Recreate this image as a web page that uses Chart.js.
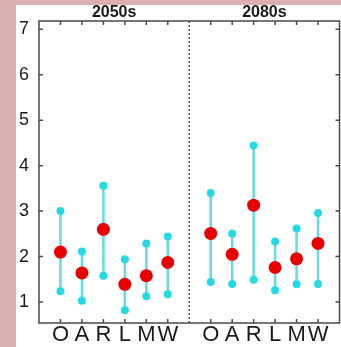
<!DOCTYPE html>
<html>
<head>
<meta charset="utf-8">
<script src="https://cdn.jsdelivr.net/npm/chart.js@4.4.1/dist/chart.umd.min.js"></script>
<style>
  html, body { margin: 0; padding: 0; overflow: hidden; background: #dcafb3; width: 341px; height: 347px; }
  #card { position: absolute; left: 16px; top: 5px; right: 0; bottom: 0; background: #ffffff; }
  #c { position: absolute; left: 0; top: 0; }
</style>
</head>
<body>
<div id="card"></div>
<canvas id="c" width="346" height="347"></canvas>
<script>
// Categories of each period panel
const categories = ['O', 'A', 'R', 'L', 'M', 'W'];
const periods = ['2050s', '2080s'];

// Central estimate and range (low / high) per category, one array per period
const mean2050 = [2.10, 1.64, 2.60, 1.39, 1.58, 1.87];
const high2050 = [3.00, 2.11, 3.56, 1.94, 2.29, 2.44];
const low2050  = [1.24, 1.03, 1.58, 0.82, 1.13, 1.17];

const mean2080 = [2.51, 2.05, 3.13, 1.76, 1.95, 2.29];
const high2080 = [3.40, 2.51, 4.44, 2.33, 2.62, 2.96];
const low2080  = [1.44, 1.40, 1.49, 1.26, 1.39, 1.40];

const yTicks = [1, 2, 3, 4, 5, 6, 7];

// x positions: 1..6 for the first panel, 8..13 for the second, divider at 7
const xPos2050 = [1, 2, 3, 4, 5, 6];
const xPos2080 = [8, 9, 10, 11, 12, 13];
const dividerX = 7;
const periodCenters = [3.5, 10.5];
const X_MIN = 0, X_MAX = 14;
const Y_MIN = 0.54, Y_MAX = 7.18;

const xAll = xPos2050.concat(xPos2080);
const meanAll = mean2050.concat(mean2080);
const highAll = high2050.concat(high2080);
const lowAll = low2050.concat(low2080);

const meanPts = xAll.map((x, i) => ({ x, y: meanAll[i] }));
const endPts = [];
const stemPts = [];
xAll.forEach((x, i) => {
  endPts.push({ x, y: highAll[i] }, { x, y: lowAll[i] });
  stemPts.push({ x, y: lowAll[i] }, { x, y: highAll[i] }, { x, y: null });
});

const AXIS = '#4a4a4a';

// box frame with inward tick marks on all four sides
const framePlugin = {
  id: 'frame',
  beforeDatasetsDraw(chart) {
    const { ctx, chartArea: a, scales } = chart;
    ctx.save();
    ctx.strokeStyle = AXIS;
    ctx.lineWidth = 1.5;
    ctx.strokeRect(a.left, a.top, a.right - a.left, a.bottom - a.top);
    const L = 4;
    ctx.beginPath();
    yTicks.forEach(v => {
      const p = scales.y.getPixelForValue(v);
      ctx.moveTo(a.left, p); ctx.lineTo(a.left + L, p);
      ctx.moveTo(a.right, p); ctx.lineTo(a.right - L, p);
    });
    xAll.forEach(v => {
      const p = scales.x.getPixelForValue(v);
      ctx.moveTo(p, a.top); ctx.lineTo(p, a.top + L);
      ctx.moveTo(p, a.bottom); ctx.lineTo(p, a.bottom - L);
    });
    ctx.stroke();
    ctx.restore();
  }
};

new Chart(document.getElementById('c'), {
  type: 'scatter',
  data: {
    datasets: [
      {
        data: meanPts,
        pointRadius: 6.5,
        pointHoverRadius: 6.5,
        backgroundColor: '#e80000',
        borderWidth: 0,
        showLine: false
      },
      {
        data: endPts,
        pointRadius: 4,
        pointHoverRadius: 4,
        backgroundColor: '#22d9e4',
        borderWidth: 0,
        showLine: false
      },
      {
        data: stemPts,
        showLine: true,
        spanGaps: false,
        pointRadius: 0,
        borderColor: '#62dbe2',
        borderWidth: 2.5
      },
      {
        data: [{ x: dividerX, y: Y_MIN }, { x: dividerX, y: Y_MAX }],
        showLine: true,
        pointRadius: 0,
        borderColor: '#555555',
        borderWidth: 1.5,
        borderDash: [2, 2]
      }
    ]
  },
  options: {
    responsive: false,
    animation: false,
    devicePixelRatio: 1,
    layout: { padding: { left: 0, right: 3, top: 0, bottom: 0 } },
    plugins: { legend: { display: false }, tooltip: { enabled: false } },
    scales: {
      x: {
        type: 'linear',
        position: 'bottom',
        min: X_MIN, max: X_MAX,
        grid: { display: false, drawTicks: false },
        border: { display: false },
        afterBuildTicks: s => { s.ticks = xAll.map(v => ({ value: v })); },
        afterFit: s => { s.height = 24; },
        ticks: {
          autoSkip: false,
          maxRotation: 0,
          padding: 1,
          color: '#1a1a1a',
          font: { family: 'Liberation Sans, Arial, sans-serif', size: 22, lineHeight: 1 },
          callback: v => {
            let i = xPos2050.indexOf(v);
            if (i < 0) i = xPos2080.indexOf(v);
            return i >= 0 ? categories[i] : '';
          }
        }
      },
      xTop: {
        type: 'linear',
        position: 'top',
        min: X_MIN, max: X_MAX,
        grid: { display: false, drawTicks: false },
        border: { display: false },
        afterBuildTicks: s => { s.ticks = periodCenters.map(v => ({ value: v })); },
        afterFit: s => { s.height = 21; },
        ticks: {
          autoSkip: false,
          maxRotation: 0,
          padding: 0,
          color: '#1a1a1a',
          font: { family: 'Liberation Sans, Arial, sans-serif', size: 16, weight: 'bold', lineHeight: 1 },
          callback: v => periods[periodCenters.indexOf(v)] || ''
        }
      },
      y: {
        type: 'linear',
        position: 'left',
        min: Y_MIN, max: Y_MAX,
        grid: { display: false, drawTicks: false },
        border: { display: false },
        afterBuildTicks: s => { s.ticks = yTicks.map(v => ({ value: v })); },
        afterFit: s => { s.width = 39; },
        ticks: {
          padding: 10,
          color: '#1a1a1a',
          font: { family: 'Liberation Sans, Arial, sans-serif', size: 18 }
        }
      }
    }
  },
  plugins: [framePlugin]
});
</script>
</body>
</html>
